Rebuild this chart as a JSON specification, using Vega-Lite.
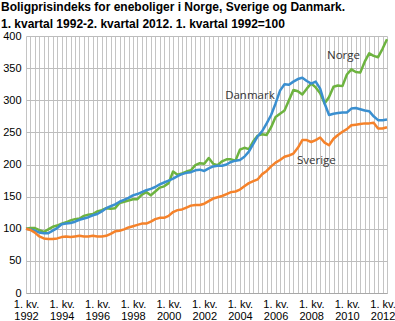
{
  "$schema": "https://vega.github.io/schema/vega-lite/v6.json",
  "width": 361,
  "height": 257,
  "autosize": {"type": "none"},
  "padding": {"left": 26, "top": 36, "right": 8, "bottom": 28},
  "background": "white",
  "title": {
    "text": ["Boligprisindeks for eneboliger i Norge, Sverige og Danmark.", "1. kvartal 1992-2. kvartal 2012. 1. kvartal 1992=100"],
    "anchor": "start",
    "frame": "group",
    "dx": -25,
    "dy": 7,
    "offset": 6,
    "font": "Liberation Sans",
    "fontSize": 12,
    "fontWeight": "bold",
    "color": "#000000",
    "lineHeight": 17
  },
  "config": {
    "view": {"stroke": null},
    "axis": {"labelFont": "Liberation Sans", "labelFontSize": 11, "labelColor": "#000000"}
  },
  "encoding": {
    "x": {
      "field": "t",
      "type": "quantitative",
      "scale": {"domain": [1992, 2012.25], "nice": false, "zero": false},
      "axis": {
        "title": null,
        "values": [1992, 1992.25, 1992.5, 1992.75, 1993, 1993.25, 1993.5, 1993.75, 1994, 1994.25, 1994.5, 1994.75, 1995, 1995.25, 1995.5, 1995.75, 1996, 1996.25, 1996.5, 1996.75, 1997, 1997.25, 1997.5, 1997.75, 1998, 1998.25, 1998.5, 1998.75, 1999, 1999.25, 1999.5, 1999.75, 2000, 2000.25, 2000.5, 2000.75, 2001, 2001.25, 2001.5, 2001.75, 2002, 2002.25, 2002.5, 2002.75, 2003, 2003.25, 2003.5, 2003.75, 2004, 2004.25, 2004.5, 2004.75, 2005, 2005.25, 2005.5, 2005.75, 2006, 2006.25, 2006.5, 2006.75, 2007, 2007.25, 2007.5, 2007.75, 2008, 2008.25, 2008.5, 2008.75, 2009, 2009.25, 2009.5, 2009.75, 2010, 2010.25, 2010.5, 2010.75, 2011, 2011.25, 2011.5, 2011.75, 2012, 2012.25],
        "labelExpr": "datum.value % 2 == 0 ? ['1. kv.', '' + datum.value] : ''",
        "labelOverlap": false,
        "labelFlush": false,
        "labelBound": false,
        "labelLineHeight": 12,
        "labelPadding": 5,
        "ticks": false,
        "grid": true,
        "gridColor": "#c4c4c4",
        "gridWidth": 1,
        "domainColor": "#a8a8a8"
      }
    },
    "y": {
      "field": "value",
      "type": "quantitative",
      "scale": {"domain": [0, 400], "nice": false},
      "axis": {
        "title": null,
        "values": [0, 50, 100, 150, 200, 250, 300, 350, 400],
        "ticks": false,
        "domain": false,
        "grid": true,
        "gridColor": "#bdbdbd",
        "labelPadding": 5
      }
    }
  },
  "layer": [
    {
      "data": {
        "values": [
          {"t": 1992.0, "Norge": 100, "Danmark": 100, "Sverige": 100},
          {"t": 1992.25, "Norge": 101, "Danmark": 99, "Sverige": 98},
          {"t": 1992.5, "Norge": 101, "Danmark": 97, "Sverige": 94},
          {"t": 1992.75, "Norge": 98, "Danmark": 94, "Sverige": 88},
          {"t": 1993.0, "Norge": 95, "Danmark": 93, "Sverige": 85},
          {"t": 1993.25, "Norge": 99, "Danmark": 93, "Sverige": 84},
          {"t": 1993.5, "Norge": 103, "Danmark": 97, "Sverige": 84},
          {"t": 1993.75, "Norge": 105, "Danmark": 101, "Sverige": 85},
          {"t": 1994.0, "Norge": 108, "Danmark": 107, "Sverige": 87},
          {"t": 1994.25, "Norge": 110, "Danmark": 108, "Sverige": 88},
          {"t": 1994.5, "Norge": 113, "Danmark": 109, "Sverige": 87},
          {"t": 1994.75, "Norge": 115, "Danmark": 111, "Sverige": 88},
          {"t": 1995.0, "Norge": 116, "Danmark": 114, "Sverige": 89},
          {"t": 1995.25, "Norge": 120, "Danmark": 116, "Sverige": 88},
          {"t": 1995.5, "Norge": 122, "Danmark": 118, "Sverige": 88},
          {"t": 1995.75, "Norge": 123, "Danmark": 121, "Sverige": 89},
          {"t": 1996.0, "Norge": 127, "Danmark": 123, "Sverige": 88},
          {"t": 1996.25, "Norge": 129, "Danmark": 127, "Sverige": 88},
          {"t": 1996.5, "Norge": 132, "Danmark": 132, "Sverige": 89},
          {"t": 1996.75, "Norge": 131, "Danmark": 135, "Sverige": 92},
          {"t": 1997.0, "Norge": 132, "Danmark": 138, "Sverige": 96},
          {"t": 1997.25, "Norge": 140, "Danmark": 142, "Sverige": 97},
          {"t": 1997.5, "Norge": 142, "Danmark": 145, "Sverige": 99},
          {"t": 1997.75, "Norge": 144, "Danmark": 148, "Sverige": 102},
          {"t": 1998.0, "Norge": 146, "Danmark": 152, "Sverige": 104},
          {"t": 1998.25, "Norge": 146, "Danmark": 154, "Sverige": 106},
          {"t": 1998.5, "Norge": 153, "Danmark": 157, "Sverige": 108},
          {"t": 1998.75, "Norge": 157, "Danmark": 160, "Sverige": 108},
          {"t": 1999.0, "Norge": 152, "Danmark": 162, "Sverige": 111},
          {"t": 1999.25, "Norge": 158, "Danmark": 165, "Sverige": 115},
          {"t": 1999.5, "Norge": 164, "Danmark": 169, "Sverige": 117},
          {"t": 1999.75, "Norge": 166, "Danmark": 172, "Sverige": 117},
          {"t": 2000.0, "Norge": 171, "Danmark": 175, "Sverige": 120},
          {"t": 2000.25, "Norge": 189, "Danmark": 178, "Sverige": 126},
          {"t": 2000.5, "Norge": 184, "Danmark": 182, "Sverige": 129},
          {"t": 2000.75, "Norge": 186, "Danmark": 185, "Sverige": 130},
          {"t": 2001.0, "Norge": 189, "Danmark": 187, "Sverige": 133},
          {"t": 2001.25, "Norge": 191, "Danmark": 188, "Sverige": 136},
          {"t": 2001.5, "Norge": 199, "Danmark": 191, "Sverige": 137},
          {"t": 2001.75, "Norge": 202, "Danmark": 192, "Sverige": 137},
          {"t": 2002.0, "Norge": 201, "Danmark": 190, "Sverige": 139},
          {"t": 2002.25, "Norge": 210, "Danmark": 194, "Sverige": 143},
          {"t": 2002.5, "Norge": 201, "Danmark": 197, "Sverige": 147},
          {"t": 2002.75, "Norge": 199, "Danmark": 198, "Sverige": 149},
          {"t": 2003.0, "Norge": 205, "Danmark": 198, "Sverige": 151},
          {"t": 2003.25, "Norge": 208, "Danmark": 200, "Sverige": 154},
          {"t": 2003.5, "Norge": 208, "Danmark": 204, "Sverige": 157},
          {"t": 2003.75, "Norge": 206, "Danmark": 206, "Sverige": 158},
          {"t": 2004.0, "Norge": 223, "Danmark": 207, "Sverige": 161},
          {"t": 2004.25, "Norge": 226, "Danmark": 212, "Sverige": 166},
          {"t": 2004.5, "Norge": 224, "Danmark": 220, "Sverige": 171},
          {"t": 2004.75, "Norge": 236, "Danmark": 232, "Sverige": 174},
          {"t": 2005.0, "Norge": 245, "Danmark": 244, "Sverige": 177},
          {"t": 2005.25, "Norge": 247, "Danmark": 252, "Sverige": 185},
          {"t": 2005.5, "Norge": 246, "Danmark": 264, "Sverige": 190},
          {"t": 2005.75, "Norge": 258, "Danmark": 277, "Sverige": 197},
          {"t": 2006.0, "Norge": 274, "Danmark": 295, "Sverige": 203},
          {"t": 2006.25, "Norge": 279, "Danmark": 315, "Sverige": 207},
          {"t": 2006.5, "Norge": 284, "Danmark": 325, "Sverige": 212},
          {"t": 2006.75, "Norge": 300, "Danmark": 324, "Sverige": 214},
          {"t": 2007.0, "Norge": 316, "Danmark": 329, "Sverige": 217},
          {"t": 2007.25, "Norge": 314, "Danmark": 333, "Sverige": 226},
          {"t": 2007.5, "Norge": 309, "Danmark": 335, "Sverige": 238},
          {"t": 2007.75, "Norge": 318, "Danmark": 330, "Sverige": 238},
          {"t": 2008.0, "Norge": 326, "Danmark": 326, "Sverige": 235},
          {"t": 2008.25, "Norge": 320, "Danmark": 329, "Sverige": 238},
          {"t": 2008.5, "Norge": 311, "Danmark": 318, "Sverige": 242},
          {"t": 2008.75, "Norge": 295, "Danmark": 295, "Sverige": 234},
          {"t": 2009.0, "Norge": 305, "Danmark": 277, "Sverige": 230},
          {"t": 2009.25, "Norge": 321, "Danmark": 279, "Sverige": 240},
          {"t": 2009.5, "Norge": 323, "Danmark": 280, "Sverige": 246},
          {"t": 2009.75, "Norge": 322, "Danmark": 281, "Sverige": 251},
          {"t": 2010.0, "Norge": 340, "Danmark": 281, "Sverige": 255},
          {"t": 2010.25, "Norge": 348, "Danmark": 287, "Sverige": 261},
          {"t": 2010.5, "Norge": 344, "Danmark": 288, "Sverige": 262},
          {"t": 2010.75, "Norge": 343, "Danmark": 286, "Sverige": 263},
          {"t": 2011.0, "Norge": 360, "Danmark": 284, "Sverige": 264},
          {"t": 2011.25, "Norge": 373, "Danmark": 283, "Sverige": 264},
          {"t": 2011.5, "Norge": 369, "Danmark": 275, "Sverige": 265},
          {"t": 2011.75, "Norge": 367, "Danmark": 269, "Sverige": 256},
          {"t": 2012.0, "Norge": 380, "Danmark": 269, "Sverige": 256},
          {"t": 2012.25, "Norge": 395, "Danmark": 270, "Sverige": 258}
        ]
      },
      "transform": [{"fold": ["Norge", "Danmark", "Sverige"], "as": ["land", "value"]}],
      "mark": {"type": "line", "strokeWidth": 2.5, "strokeJoin": "round"},
      "encoding": {
        "color": {
          "field": "land",
          "type": "nominal",
          "scale": {"domain": ["Norge", "Danmark", "Sverige"], "range": ["#6db33f", "#3a8fd0", "#f5822a"]},
          "legend": null
        }
      }
    },
    {
      "data": {
        "values": [
          {"t": 2009.81, "value": 369, "label": "Norge"},
          {"t": 2004.56, "value": 307, "label": "Danmark"},
          {"t": 2008.29, "value": 205, "label": "Sverige"}
        ]
      },
      "mark": {"type": "text", "font": "Open Sans", "fontSize": 11.5, "color": "#333333", "align": "center", "baseline": "middle"},
      "encoding": {
        "text": {"field": "label"}
      }
    }
  ]
}
